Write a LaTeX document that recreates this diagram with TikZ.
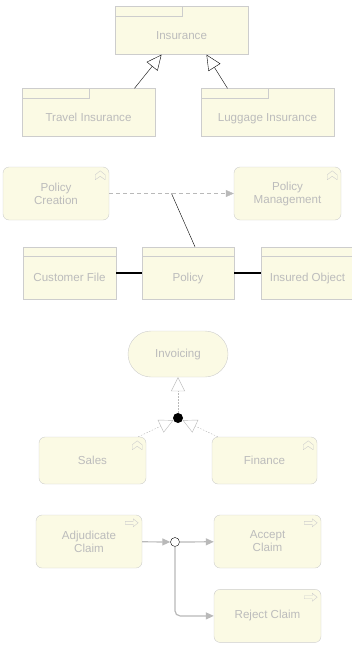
\documentclass[tikz,border=0pt]{standalone}
\usepackage{fontspec}
\setmainfont{Liberation Sans}
\usepackage{tikz}
\usetikzlibrary{arrows.meta,positioning}
\usepackage{xcolor}
\definecolor{archfill}{RGB}{251,250,228}
\definecolor{boxline} {RGB}{205,205,205}
\definecolor{archtext}{RGB}{188,188,188}
\definecolor{relgray} {RGB}{185,185,185}
\newcommand{\fnicon}[1]{%
  \draw[boxline, line join=round] ([xshift=-14pt,yshift=-4pt]#1) ++(0,9) -- ++(0,-5) -- ++(5,-4) -- ++(5,4) -- ++(0,5) -- ++(-5,-3.5) -- cycle;}
\newcommand{\procicon}[1]{%
  \draw[boxline] ([xshift=-17pt,yshift=-4pt]#1) ++(0,2.5) -- ++(8,0) -- ++(0,-2.5) -- ++(5,4) -- ++(-5,4) -- ++(0,-2.5) -- ++(-8,0) -- cycle;}

\begin{document}
\begin{tikzpicture}[
  x=1pt, y=-1pt,
  every node/.style={font=\fontsize{11.6}{13}\selectfont, align=center, text=archtext},
  pkg/.style={draw=boxline, fill=archfill, minimum width=133pt, minimum height=48pt, text height=21pt, text depth=3pt,
    path picture={\draw[boxline] ([yshift=-10pt]path picture bounding box.north west) -| ([xshift=67pt]path picture bounding box.north west);}},
  bobj/.style={draw=boxline, fill=archfill, minimum width=93pt, minimum height=52pt, text height=20pt, text depth=3pt,
    path picture={\draw[boxline] ([yshift=-9pt]path picture bounding box.north west) -- ([yshift=-9pt]path picture bounding box.north east);}},
  func/.style={draw=boxline, fill=archfill, rounded corners=6pt, minimum width=106pt, minimum height=53pt},
  service/.style={draw=boxline, fill=archfill, rounded corners=23pt, minimum width=100pt, minimum height=46pt},
  special/.style={-{Triangle[open,length=15pt,width=14pt,fill=white]}, black},
  realize/.style={-{Triangle[open,length=14pt,width=14pt,fill=white]}, relgray, dash pattern=on 1.5pt off 1.5pt},
  flow/.style={-{Triangle[length=8pt,width=7pt]}, relgray, dash pattern=on 4pt off 3pt},
  trigger/.style={-{Triangle[length=8pt,width=7pt]}, relgray, line width=1.2pt},
  assoc/.style={black},
  compose/.style={black, line width=2pt}
]
  \useasboundingbox (0,0) rectangle (352,645);

  % Nodes
  \node (insurance) [pkg] at (181.5,30.5) {Insurance};
  \node (travel) [pkg] at (88.5,112.5) {Travel Insurance};
  \node (luggage) [pkg] at (267.5,112.5) {Luggage Insurance};

  \node (pcreate) [func] at (56,193.5) {Policy\\Creation};
  \node (pmanage) [func, minimum width=107pt] at (287.5,193.5) {Policy\\Management};
  \node (custfile) [bobj] at (69.5,273) {Customer File};
  \node (policy) [bobj, minimum width=92pt] at (188,273) {Policy};
  \node (insobj) [bobj] at (307.5,273) {Insured Object};

  \node (invoicing) [service] at (178,354) {Invoicing};
  \node (junc) [circle, fill=black, inner sep=0pt, minimum size=10pt] at (178,418) {};
  \node (sales) [func, minimum width=107pt, minimum height=47pt] at (92.5,460.5) {Sales};
  \node (finance) [func, minimum width=105pt, minimum height=47pt] at (264.5,460.5) {Finance};

  \node (adjud) [func] at (89,541.5) {Adjudicate\\Claim};
  \node (orjunc) [circle, draw=black, fill=white, inner sep=0pt, minimum size=9pt] at (175,542) {};
  \node (accept) [func, minimum width=107pt] at (267.5,541.5) {Accept\\Claim};
  \node (reject) [func, minimum width=107pt, below=21pt of accept] {Reject Claim};

  % Icons
  \fnicon{pcreate.north east}
  \fnicon{pmanage.north east}
  \fnicon{sales.north east}
  \fnicon{finance.north east}
  \procicon{adjud.north east}
  \procicon{accept.north east}
  \procicon{reject.north east}

  % Paths
  \draw [special] ([xshift=46pt]travel.north) -- ([xshift=-20pt]insurance.south);
  \draw [special] ([xshift=-40pt]luggage.north) -- ([xshift=25pt]insurance.south);

  \draw [flow] (pcreate) -- coordinate[pos=0.5] (flowmid) (pmanage);
  \draw [assoc] (flowmid) -- ([xshift=7pt]policy.north);
  \draw [compose] (custfile) -- (policy);
  \draw [compose] (policy) -- (insobj);

  \draw [realize] (junc) -- (invoicing);
  \draw [realize] ([xshift=-8pt]sales.north east) -- (junc);
  \draw [realize] ([xshift=6pt]finance.north west) -- (junc);

  \draw [trigger] (adjud) -- (orjunc);
  \draw [trigger] (orjunc) -- (accept);
  \draw [trigger, rounded corners=5pt] (orjunc) |- (reject);
\end{tikzpicture}
\end{document}
